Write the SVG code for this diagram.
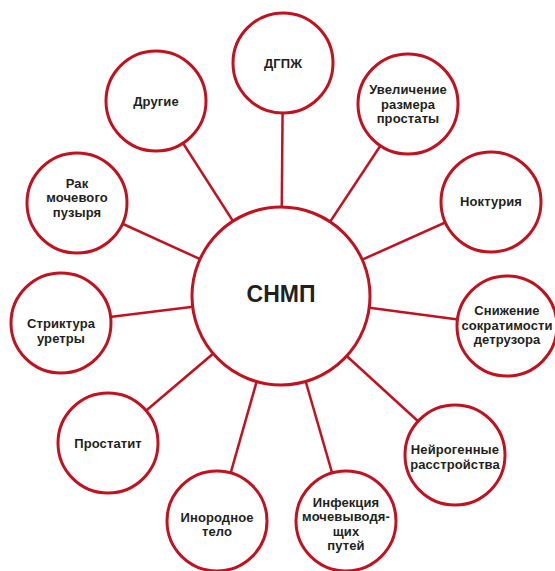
<svg xmlns="http://www.w3.org/2000/svg" width="555" height="571" viewBox="0 0 555 571">
<style>
.c{fill:#fff;stroke:#c1121f;stroke-width:3}
.l{stroke:#c1121f;stroke-width:2.5;fill:none}
.t{font-family:"Liberation Sans",Arial,sans-serif;font-weight:700;font-size:13px;fill:#231f20;text-anchor:middle;letter-spacing:0.1px}
.m{font-size:23px;letter-spacing:0}
</style>
<rect width="555" height="571" fill="#fff"/>
<g id="connectors">
<line class="l" x1="281" y1="296" x2="283" y2="63"/>
<line class="l" x1="281" y1="296" x2="408" y2="104"/>
<line class="l" x1="281" y1="296" x2="491" y2="202"/>
<line class="l" x1="281" y1="296" x2="507" y2="326"/>
<line class="l" x1="281" y1="296" x2="455" y2="455"/>
<line class="l" x1="281" y1="296" x2="346" y2="521"/>
<line class="l" x1="281" y1="296" x2="217" y2="521"/>
<line class="l" x1="281" y1="296" x2="108" y2="443"/>
<line class="l" x1="281" y1="296" x2="61" y2="323"/>
<line class="l" x1="281" y1="296" x2="77" y2="203"/>
<line class="l" x1="281" y1="296" x2="156" y2="101"/>
</g>
<g id="snmp"><circle class="c" cx="281" cy="296" r="89"/><text class="t m" x="281" y="302">СНМП</text></g>
<g id="dgpzh"><circle class="c" cx="283" cy="63" r="50"/><text class="t" x="283" y="68">ДГПЖ</text></g>
<g id="uvel"><circle class="c" cx="408" cy="104" r="50"/><text class="t" x="408" y="94">Увеличение</text><text class="t" x="408" y="108.5">размера</text><text class="t" x="408" y="123">простаты</text></g>
<g id="noct"><circle class="c" cx="491" cy="202" r="50"/><text class="t" x="491" y="206">Ноктурия</text></g>
<g id="snizh"><circle class="c" cx="507" cy="326" r="50"/><text class="t" x="507" y="315">Снижение</text><text class="t" x="507" y="329.5">сократимости</text><text class="t" x="507" y="344">детрузора</text></g>
<g id="neuro"><circle class="c" cx="455" cy="455" r="50"/><text class="t" x="455" y="454">Нейрогенные</text><text class="t" x="455" y="468.5">расстройства</text></g>
<g id="infek"><circle class="c" cx="346" cy="521" r="50"/><text class="t" x="346" y="506.5">Инфекция</text><text class="t" x="346" y="521">мочевыводя-</text><text class="t" x="346" y="535.5">щих</text><text class="t" x="346" y="550">путей</text></g>
<g id="inor"><circle class="c" cx="217" cy="521" r="50"/><text class="t" x="217" y="521.5">Инородное</text><text class="t" x="217" y="536">тело</text></g>
<g id="prost"><circle class="c" cx="108" cy="443" r="50"/><text class="t" x="108" y="448">Простатит</text></g>
<g id="strik"><circle class="c" cx="61" cy="323" r="50"/><text class="t" x="61" y="328">Стриктура</text><text class="t" x="61" y="342.5">уретры</text></g>
<g id="rak"><circle class="c" cx="77" cy="203" r="50"/><text class="t" x="77" y="187.5">Рак</text><text class="t" x="77" y="202">мочевого</text><text class="t" x="77" y="216.5">пузыря</text></g>
<g id="drug"><circle class="c" cx="156" cy="101" r="50"/><text class="t" x="156" y="106">Другие</text></g>
</svg>
